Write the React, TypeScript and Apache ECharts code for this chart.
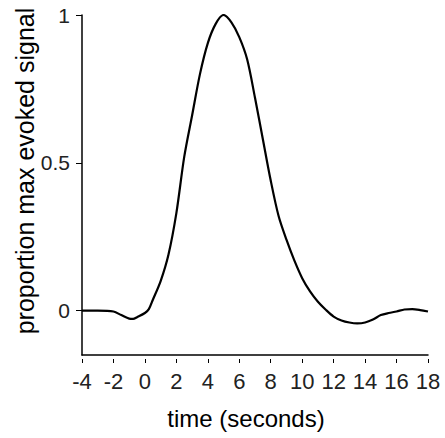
import React, { useEffect, useRef } from "react";
import * as echarts from "echarts";

const timeSec = [-4, -3, -2, -1.5, -1, -0.75, -0.5, 0, 0.25, 0.5, 1, 1.5, 2, 2.5, 3, 3.5, 4, 4.5, 5, 5.5, 6, 6.5, 7, 7.5, 8, 8.5, 9, 9.5, 10, 10.5, 11, 11.5, 12, 12.5, 13, 13.5, 14, 14.5, 15, 15.5, 16, 16.5, 17, 17.5, 18];
const signal = [0, 0, -0.003, -0.015, -0.027, -0.028, -0.022, -0.008, 0.005, 0.036, 0.1, 0.19, 0.33, 0.52, 0.66, 0.8, 0.905, 0.97, 1.0, 0.975, 0.925, 0.85, 0.72, 0.58, 0.44, 0.32, 0.24, 0.17, 0.11, 0.065, 0.03, 0.003, -0.02, -0.033, -0.04, -0.043, -0.04, -0.03, -0.015, -0.008, -0.003, 0.004, 0.005, 0.002, -0.003];
const xTicks = [-4, -2, 0, 2, 4, 6, 8, 10, 12, 14, 16, 18];
const yTicks = [0, 0.5, 1];
const xTitle = "time (seconds)";
const yTitle = "proportion max evoked signal";

const FONT = "'Liberation Sans', Arial, Helvetica, sans-serif";

export default function App() {
  const ref = useRef<HTMLDivElement>(null);
  useEffect(() => {
    if (!ref.current) return;
    const chart = echarts.init(ref.current, undefined, { renderer: "svg" });
    chart.setOption({
      animation: false,
      backgroundColor: "#ffffff",
      grid: { left: 82, right: 17, top: 15, bottom: 83 },
      xAxis: [
        {
          type: "value",
          min: -4,
          max: 18,
          interval: 2,
          axisLine: { show: true, onZero: false, lineStyle: { color: "#000", width: 1.5 } },
          axisTick: { show: false },
          axisLabel: { show: false },
          splitLine: { show: false },
        },
        {
          type: "value",
          min: -4,
          max: 18,
          position: "bottom",
          offset: 4,
          axisLine: { show: false, onZero: false },
          axisTick: { show: true, length: 4, customValues: xTicks, lineStyle: { color: "#000", width: 1 } },
          axisLabel: {
            show: true,
            customValues: xTicks,
            margin: 11,
            fontSize: 22,
            fontFamily: FONT,
            color: "#222",
            hideOverlap: false,
          },
          splitLine: { show: false },
        },
      ],
      yAxis: {
        type: "value",
        min: -0.15,
        max: 1,
        axisLine: { show: true, onZero: false, lineStyle: { color: "#000", width: 1.5 } },
        axisTick: { show: true, length: 6, customValues: yTicks, lineStyle: { color: "#000", width: 1 } },
        axisLabel: {
          show: true,
          customValues: yTicks,
          margin: 12,
          fontSize: 21,
          fontFamily: FONT,
          color: "#222",
        },
        splitLine: { show: false },
      },
      graphic: [
        {
          type: "text",
          x: 246,
          y: 418,
          style: {
            text: xTitle,
            font: `24px ${FONT}`,
            fill: "#000",
            textAlign: "center",
            textVerticalAlign: "middle",
          },
        },
        {
          type: "text",
          x: 25,
          y: 171,
          rotation: Math.PI / 2,
          style: {
            text: yTitle,
            font: `25px ${FONT}`,
            fill: "#000",
            textAlign: "center",
            textVerticalAlign: "middle",
          },
        },
      ],
      series: [
        {
          type: "line",
          xAxisIndex: 0,
          data: timeSec.map((t, i) => [t, signal[i]]),
          showSymbol: false,
          smooth: 0.3,
          lineStyle: { color: "#000", width: 2.2 },
        },
      ],
    });
    return () => chart.dispose();
  }, []);
  return (
    <div
      ref={ref}
      style={{ position: "fixed", left: 0, top: 0, width: 445, height: 438 }}
    />
  );
}
